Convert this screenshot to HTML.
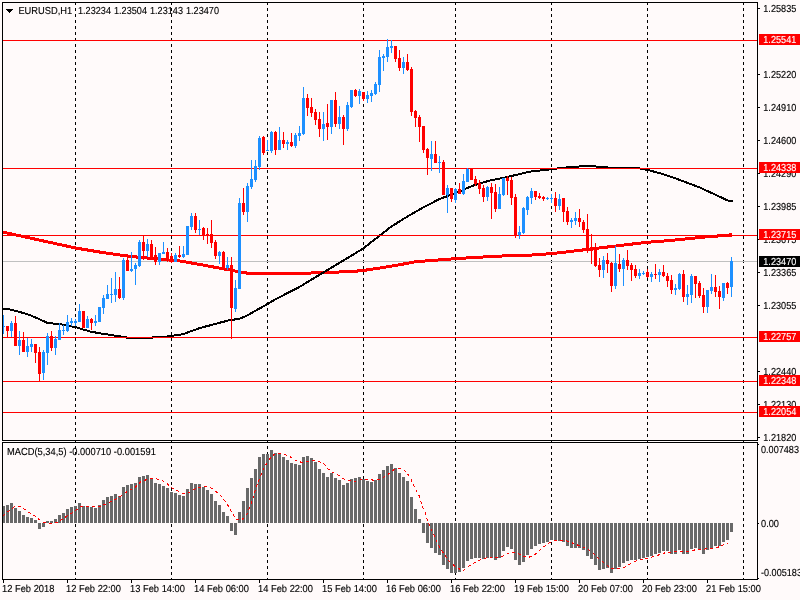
<!DOCTYPE html>
<html><head><meta charset="utf-8"><title>EURUSD,H1</title>
<style>
html,body{margin:0;padding:0;background:#FFFAFA;overflow:hidden}
svg{display:block}
text{font-family:"Liberation Sans",sans-serif;font-size:9.33px;fill:#000;stroke:#000;stroke-width:0.12px;text-rendering:geometricPrecision}
.w{fill:#fff;stroke:#fff}
</style></head><body>
<svg width="800" height="600" viewBox="0 0 800 600">
<rect width="800" height="600" fill="#FFFAFA"/>
<g shape-rendering="crispEdges">
<path d="M75.5 2V440M75.5 440V579" stroke="#000" stroke-width="1" stroke-dasharray="3 3" fill="none"/><path d="M171.5 2V440M171.5 440V579" stroke="#000" stroke-width="1" stroke-dasharray="3 3" fill="none"/><path d="M267.5 2V440M267.5 440V579" stroke="#000" stroke-width="1" stroke-dasharray="3 3" fill="none"/><path d="M363.5 2V440M363.5 440V579" stroke="#000" stroke-width="1" stroke-dasharray="3 3" fill="none"/><path d="M455.5 2V440M455.5 440V579" stroke="#000" stroke-width="1" stroke-dasharray="3 3" fill="none"/><path d="M551.5 2V440M551.5 440V579" stroke="#000" stroke-width="1" stroke-dasharray="3 3" fill="none"/><path d="M647.5 2V440M647.5 440V579" stroke="#000" stroke-width="1" stroke-dasharray="3 3" fill="none"/><path d="M743.5 2V440M743.5 440V579" stroke="#000" stroke-width="1" stroke-dasharray="3 3" fill="none"/>
<rect x="3" y="261" width="754" height="1" fill="#C0C0C0"/>
<path d="M3 231h4v3h-4zM7 232h5v3h-5zM12 233h4v3h-4zM16 234h5v3h-5zM21 235h4v3h-4zM25 235h1v4h-1zM26 236h4v3h-4zM30 237h4v3h-4zM34 237h1v4h-1zM35 238h4v3h-4zM39 239h4v3h-4zM43 239h1v4h-1zM44 240h4v3h-4zM48 241h5v3h-5zM53 242h4v3h-4zM57 243h5v3h-5zM62 244h4v3h-4zM66 244h1v4h-1zM67 245h4v3h-4zM71 246h4v3h-4zM75 246h1v4h-1zM76 247h5v3h-5zM81 247h1v4h-1zM82 248h5v3h-5zM87 248h1v4h-1zM88 249h5v3h-5zM93 249h1v4h-1zM94 250h5v3h-5zM99 250h1v4h-1zM100 251h6v3h-6zM106 252h7v3h-7zM113 253h7v3h-7zM120 254h7v3h-7zM127 254h1v4h-1zM128 255h8v3h-8zM136 255h1v4h-1zM137 256h10v3h-10zM147 257h11v3h-11zM158 258h11v3h-11zM169 259h11v3h-11zM180 260h6v3h-6zM186 261h5v3h-5zM191 261h1v4h-1zM192 262h5v3h-5zM197 263h6v3h-6zM203 264h5v3h-5zM208 265h5v3h-5zM213 265h1v4h-1zM214 266h5v3h-5zM219 267h5v3h-5zM224 267h1v4h-1zM225 268h5v3h-5zM230 269h5v3h-5zM235 270h6v3h-6zM241 271h5v3h-5zM246 271h1v4h-1zM247 272h64v3h-64zM311 271h28v3h-28zM339 270h18v3h-18zM357 269h1v4h-1zM358 269h8v3h-8zM366 268h1v4h-1zM367 268h6v3h-6zM373 267h7v3h-7zM380 266h6v3h-6zM386 265h6v3h-6zM392 264h6v3h-6zM398 263h5v3h-5zM403 262h1v4h-1zM404 262h5v3h-5zM409 261h5v3h-5zM414 260h11v3h-11zM425 259h13v3h-13zM438 258h13v3h-13zM451 257h15v3h-15zM466 256h17v3h-17zM483 255h19v3h-19zM502 254h30v3h-30zM532 253h14v3h-14zM546 252h11v3h-11zM557 251h9v3h-9zM566 250h8v3h-8zM574 249h8v3h-8zM582 248h1v4h-1zM583 248h8v3h-8zM591 247h8v3h-8zM599 246h8v3h-8zM607 245h1v4h-1zM608 245h8v3h-8zM616 244h8v3h-8zM624 243h8v3h-8zM632 242h1v4h-1zM633 242h8v3h-8zM641 241h10v3h-10zM651 240h13v3h-13zM664 239h11v3h-11zM675 238h10v3h-10zM685 237h10v3h-10zM695 236h10v3h-10zM705 235h12v3h-12zM717 234h1v4h-1zM718 234h14v3h-14z" fill="#FF0000"/><rect x="729" y="233" width="3" height="1" fill="#FF0000"/><path d="M3 308h7v2h-7zM10 309h4v2h-4zM14 310h4v2h-4zM18 311h3v2h-3zM21 311h1v3h-1zM22 312h3v2h-3zM25 313h3v2h-3zM28 314h3v2h-3zM31 315h2v2h-2zM33 316h2v2h-2zM35 316h1v3h-1zM36 317h2v2h-2zM38 318h2v2h-2zM40 319h2v2h-2zM42 320h2v2h-2zM44 320h1v3h-1zM45 321h1v2h-1zM46 321h1v3h-1zM47 322h6v2h-6zM53 323h9v2h-9zM62 324h5v2h-5zM67 325h5v2h-5zM72 326h5v2h-5zM77 327h3v2h-3zM80 328h3v2h-3zM83 329h4v2h-4zM87 330h3v2h-3zM90 331h5v2h-5zM95 331h1v3h-1zM96 332h5v2h-5zM101 333h7v2h-7zM108 334h6v2h-6zM114 335h7v2h-7zM121 336h5v2h-5zM126 336h1v3h-1zM127 337h25v2h-25zM152 336h1v3h-1zM153 336h14v2h-14zM167 335h7v2h-7zM174 334h7v2h-7zM181 333h4v2h-4zM185 332h2v2h-2zM187 331h1v3h-1zM188 331h2v2h-2zM190 330h3v2h-3zM193 329h3v2h-3zM196 328h2v2h-2zM198 327h1v3h-1zM199 327h3v2h-3zM202 326h3v2h-3zM205 325h1v3h-1zM206 325h3v2h-3zM209 324h1v3h-1zM210 324h3v2h-3zM213 323h4v2h-4zM217 322h3v2h-3zM220 321h1v3h-1zM221 321h3v2h-3zM224 320h1v3h-1zM225 320h3v2h-3zM228 319h6v2h-6zM234 318h1v3h-1zM235 318h5v2h-5zM240 317h2v2h-2zM242 316h1v3h-1zM243 316h2v2h-2zM245 315h2v2h-2zM247 314h2v2h-2zM249 313h1v2h-1zM250 312h1v3h-1zM251 312h1v2h-1zM252 311h1v3h-1zM253 311h1v2h-1zM254 310h2v2h-2zM256 309h1v2h-1zM257 308h1v3h-1zM258 308h1v2h-1zM259 307h1v3h-1zM260 307h1v2h-1zM261 306h1v3h-1zM262 306h1v2h-1zM263 305h2v2h-2zM265 304h1v2h-1zM266 303h1v3h-1zM267 303h1v2h-1zM268 302h1v3h-1zM269 302h1v2h-1zM270 301h1v2h-1zM271 300h1v3h-1zM272 300h1v2h-1zM273 299h1v3h-1zM274 299h1v2h-1zM275 298h2v2h-2zM277 297h2v2h-2zM279 296h2v2h-2zM281 295h2v2h-2zM283 294h1v2h-1zM284 293h1v3h-1zM285 293h1v2h-1zM286 292h1v3h-1zM287 292h1v2h-1zM288 291h1v3h-1zM289 291h1v2h-1zM290 290h1v3h-1zM291 290h1v2h-1zM292 289h1v3h-1zM293 289h1v2h-1zM294 288h1v3h-1zM295 288h1v2h-1zM296 287h1v3h-1zM297 287h1v2h-1zM298 286h1v3h-1zM299 286h1v2h-1zM300 285h2v2h-2zM302 284h1v2h-1zM303 283h1v3h-1zM304 283h1v2h-1zM305 282h1v2h-1zM306 281h1v3h-1zM307 281h1v2h-1zM308 280h1v3h-1zM309 280h1v2h-1zM310 279h1v2h-1zM311 278h1v3h-1zM312 278h1v2h-1zM313 277h1v3h-1zM314 277h1v2h-1zM315 276h1v2h-1zM316 275h1v3h-1zM317 275h1v2h-1zM318 274h1v3h-1zM319 274h1v2h-1zM320 273h1v2h-1zM321 272h1v3h-1zM322 272h1v2h-1zM323 271h1v3h-1zM324 271h1v2h-1zM325 270h1v2h-1zM326 269h1v3h-1zM327 269h1v2h-1zM328 268h1v3h-1zM329 268h1v2h-1zM330 267h1v2h-1zM331 266h1v3h-1zM332 266h1v2h-1zM333 265h1v3h-1zM334 265h1v2h-1zM335 264h1v2h-1zM336 263h1v3h-1zM337 263h1v2h-1zM338 262h1v3h-1zM339 262h1v2h-1zM340 261h1v2h-1zM341 260h1v3h-1zM342 260h1v2h-1zM343 259h1v3h-1zM344 259h1v2h-1zM345 258h1v2h-1zM346 257h1v3h-1zM347 257h1v2h-1zM348 256h1v3h-1zM349 256h1v2h-1zM350 255h1v2h-1zM351 254h1v3h-1zM352 254h1v2h-1zM353 253h1v3h-1zM354 253h1v2h-1zM355 252h1v2h-1zM356 251h1v3h-1zM357 251h1v2h-1zM358 250h2v2h-2zM360 249h1v2h-1zM361 248h1v3h-1zM362 248h1v2h-1zM363 247h1v2h-1zM364 246h1v3h-1zM365 245h1v3h-1zM366 245h1v2h-1zM367 244h1v2h-1zM368 243h1v3h-1zM369 242h1v3h-1zM370 241h1v3h-1zM371 241h1v2h-1zM372 240h1v2h-1zM373 239h1v3h-1zM374 238h1v3h-1zM375 238h1v2h-1zM376 237h1v2h-1zM377 236h1v3h-1zM378 235h1v3h-1zM379 234h1v3h-1zM380 234h1v2h-1zM381 233h1v2h-1zM382 232h1v3h-1zM383 231h1v3h-1zM384 231h1v2h-1zM385 230h1v2h-1zM386 229h1v3h-1zM387 228h1v3h-1zM388 227h1v3h-1zM389 227h1v2h-1zM390 226h1v2h-1zM391 225h1v3h-1zM392 225h1v2h-1zM393 224h1v2h-1zM394 223h1v3h-1zM395 223h1v2h-1zM396 222h1v3h-1zM397 221h1v3h-1zM398 221h1v2h-1zM399 220h1v3h-1zM400 220h1v2h-1zM401 219h1v2h-1zM402 218h1v3h-1zM403 218h1v2h-1zM404 217h2v2h-2zM406 216h1v2h-1zM407 215h1v3h-1zM408 215h1v2h-1zM409 214h2v2h-2zM411 213h1v2h-1zM412 212h1v3h-1zM413 212h1v2h-1zM414 211h1v3h-1zM415 211h1v2h-1zM416 210h2v2h-2zM418 209h1v2h-1zM419 208h1v3h-1zM420 208h1v2h-1zM421 207h1v3h-1zM422 207h1v2h-1zM423 206h2v2h-2zM425 205h2v2h-2zM427 204h2v2h-2zM429 203h2v2h-2zM431 202h2v2h-2zM433 201h1v2h-1zM434 200h1v3h-1zM435 200h1v2h-1zM436 199h1v3h-1zM437 199h1v2h-1zM438 198h1v3h-1zM439 198h2v2h-2zM441 197h2v2h-2zM443 196h1v3h-1zM444 196h2v2h-2zM446 195h1v3h-1zM447 195h2v2h-2zM449 194h3v2h-3zM452 193h2v2h-2zM454 192h1v3h-1zM455 192h2v2h-2zM457 191h2v2h-2zM459 190h1v3h-1zM460 190h2v2h-2zM462 189h2v2h-2zM464 188h2v2h-2zM466 187h2v2h-2zM468 186h1v3h-1zM469 186h2v2h-2zM471 185h2v2h-2zM473 184h1v3h-1zM474 184h3v2h-3zM477 183h3v2h-3zM480 182h3v2h-3zM483 181h3v2h-3zM486 180h1v3h-1zM487 180h3v2h-3zM490 179h5v2h-5zM495 178h5v2h-5zM500 177h5v2h-5zM505 176h4v2h-4zM509 175h4v2h-4zM513 174h1v3h-1zM514 174h4v2h-4zM518 173h4v2h-4zM522 172h4v2h-4zM526 171h5v2h-5zM531 170h9v2h-9zM540 169h8v2h-8zM548 168h1v3h-1zM549 168h8v2h-8zM557 167h9v2h-9zM566 166h13v2h-13zM579 165h17v2h-17zM596 166h12v2h-12zM608 167h32v2h-32zM640 168h5v2h-5zM645 169h5v2h-5zM650 170h3v2h-3zM653 170h1v3h-1zM654 171h3v2h-3zM657 172h4v2h-4zM661 173h3v2h-3zM664 174h3v2h-3zM667 175h3v2h-3zM670 176h3v2h-3zM673 177h3v2h-3zM676 178h2v2h-2zM678 178h1v3h-1zM679 179h2v2h-2zM681 180h3v2h-3zM684 181h2v2h-2zM686 181h1v3h-1zM687 182h2v2h-2zM689 183h3v2h-3zM692 184h2v2h-2zM694 184h1v3h-1zM695 185h2v2h-2zM697 186h3v2h-3zM700 187h2v2h-2zM702 188h2v2h-2zM704 189h2v2h-2zM706 190h2v2h-2zM708 190h1v3h-1zM709 191h1v2h-1zM710 191h1v3h-1zM711 192h2v2h-2zM713 193h2v2h-2zM715 194h2v2h-2zM717 195h2v2h-2zM719 196h2v2h-2zM721 196h1v3h-1zM722 197h1v2h-1zM723 197h1v3h-1zM724 198h1v2h-1zM725 198h1v3h-1zM726 199h2v2h-2zM728 200h5v2h-5z" fill="#000"/>
<rect x="3" y="40" width="754" height="1" fill="#FF0000"/><rect x="3" y="168" width="754" height="1" fill="#FF0000"/><rect x="3" y="235" width="754" height="1" fill="#FF0000"/><rect x="3" y="337" width="754" height="1" fill="#FF0000"/><rect x="3" y="381" width="754" height="1" fill="#FF0000"/><rect x="3" y="412" width="754" height="1" fill="#FF0000"/>
<rect x="3" y="315" width="1" height="19" fill="#1E90FF"/><rect x="2" y="326" width="3" height="1" fill="#1E90FF"/><rect x="7" y="326" width="1" height="11" fill="#FF0000"/><rect x="6" y="326" width="3" height="5" fill="#FF0000"/><rect x="11" y="321" width="1" height="16" fill="#1E90FF"/><rect x="10" y="323" width="3" height="8" fill="#1E90FF"/><rect x="15" y="316" width="1" height="30" fill="#FF0000"/><rect x="14" y="323" width="3" height="23" fill="#FF0000"/><rect x="19" y="331" width="1" height="24" fill="#1E90FF"/><rect x="18" y="340" width="3" height="6" fill="#1E90FF"/><rect x="23" y="332" width="1" height="20" fill="#FF0000"/><rect x="22" y="340" width="3" height="12" fill="#FF0000"/><rect x="27" y="338" width="1" height="19" fill="#1E90FF"/><rect x="26" y="346" width="3" height="6" fill="#1E90FF"/><rect x="31" y="339" width="1" height="13" fill="#1E90FF"/><rect x="30" y="344" width="3" height="3" fill="#1E90FF"/><rect x="35" y="344" width="1" height="19" fill="#FF0000"/><rect x="34" y="344" width="3" height="9" fill="#FF0000"/><rect x="39" y="347" width="1" height="35" fill="#FF0000"/><rect x="38" y="352" width="3" height="22" fill="#FF0000"/><rect x="43" y="350" width="1" height="30" fill="#1E90FF"/><rect x="42" y="352" width="3" height="21" fill="#1E90FF"/><rect x="47" y="333" width="1" height="32" fill="#1E90FF"/><rect x="46" y="336" width="3" height="17" fill="#1E90FF"/><rect x="51" y="331" width="1" height="20" fill="#FF0000"/><rect x="50" y="336" width="3" height="12" fill="#FF0000"/><rect x="55" y="336" width="1" height="19" fill="#1E90FF"/><rect x="54" y="339" width="3" height="9" fill="#1E90FF"/><rect x="59" y="323" width="1" height="17" fill="#1E90FF"/><rect x="58" y="330" width="3" height="10" fill="#1E90FF"/><rect x="63" y="325" width="1" height="10" fill="#1E90FF"/><rect x="62" y="330" width="3" height="1" fill="#1E90FF"/><rect x="67" y="315" width="1" height="17" fill="#1E90FF"/><rect x="66" y="322" width="3" height="9" fill="#1E90FF"/><rect x="71" y="318" width="1" height="8" fill="#1E90FF"/><rect x="70" y="321" width="3" height="2" fill="#1E90FF"/><rect x="75" y="319" width="1" height="7" fill="#1E90FF"/><rect x="74" y="321" width="3" height="2" fill="#1E90FF"/><rect x="79" y="304" width="1" height="18" fill="#1E90FF"/><rect x="78" y="311" width="3" height="11" fill="#1E90FF"/><rect x="83" y="311" width="1" height="17" fill="#FF0000"/><rect x="82" y="311" width="3" height="17" fill="#FF0000"/><rect x="87" y="316" width="1" height="12" fill="#1E90FF"/><rect x="86" y="319" width="3" height="9" fill="#1E90FF"/><rect x="91" y="318" width="1" height="12" fill="#FF0000"/><rect x="90" y="319" width="3" height="4" fill="#FF0000"/><rect x="95" y="315" width="1" height="11" fill="#1E90FF"/><rect x="94" y="321" width="3" height="2" fill="#1E90FF"/><rect x="99" y="307" width="1" height="15" fill="#1E90FF"/><rect x="98" y="307" width="3" height="15" fill="#1E90FF"/><rect x="103" y="295" width="1" height="19" fill="#1E90FF"/><rect x="102" y="298" width="3" height="10" fill="#1E90FF"/><rect x="107" y="285" width="1" height="14" fill="#1E90FF"/><rect x="106" y="294" width="3" height="5" fill="#1E90FF"/><rect x="111" y="278" width="1" height="25" fill="#1E90FF"/><rect x="110" y="294" width="3" height="1" fill="#1E90FF"/><rect x="115" y="272" width="1" height="30" fill="#1E90FF"/><rect x="114" y="289" width="3" height="6" fill="#1E90FF"/><rect x="119" y="277" width="1" height="22" fill="#FF0000"/><rect x="118" y="289" width="3" height="9" fill="#FF0000"/><rect x="123" y="258" width="1" height="42" fill="#1E90FF"/><rect x="122" y="260" width="3" height="38" fill="#1E90FF"/><rect x="127" y="257" width="1" height="14" fill="#FF0000"/><rect x="126" y="260" width="3" height="11" fill="#FF0000"/><rect x="131" y="252" width="1" height="20" fill="#1E90FF"/><rect x="130" y="269" width="3" height="2" fill="#1E90FF"/><rect x="135" y="263" width="1" height="22" fill="#1E90FF"/><rect x="134" y="265" width="3" height="4" fill="#1E90FF"/><rect x="139" y="240" width="1" height="27" fill="#1E90FF"/><rect x="138" y="242" width="3" height="24" fill="#1E90FF"/><rect x="143" y="236" width="1" height="24" fill="#FF0000"/><rect x="142" y="242" width="3" height="9" fill="#FF0000"/><rect x="147" y="239" width="1" height="18" fill="#1E90FF"/><rect x="146" y="244" width="3" height="7" fill="#1E90FF"/><rect x="151" y="240" width="1" height="19" fill="#FF0000"/><rect x="150" y="244" width="3" height="15" fill="#FF0000"/><rect x="155" y="247" width="1" height="18" fill="#FF0000"/><rect x="154" y="255" width="3" height="7" fill="#FF0000"/><rect x="159" y="253" width="1" height="12" fill="#1E90FF"/><rect x="158" y="253" width="3" height="9" fill="#1E90FF"/><rect x="163" y="242" width="1" height="12" fill="#1E90FF"/><rect x="162" y="252" width="3" height="2" fill="#1E90FF"/><rect x="167" y="248" width="1" height="14" fill="#FF0000"/><rect x="166" y="252" width="3" height="9" fill="#FF0000"/><rect x="171" y="253" width="1" height="10" fill="#FF0000"/><rect x="170" y="256" width="3" height="6" fill="#FF0000"/><rect x="175" y="253" width="1" height="9" fill="#1E90FF"/><rect x="174" y="255" width="3" height="7" fill="#1E90FF"/><rect x="179" y="246" width="1" height="12" fill="#FF0000"/><rect x="178" y="255" width="3" height="2" fill="#FF0000"/><rect x="183" y="246" width="1" height="12" fill="#1E90FF"/><rect x="182" y="254" width="3" height="3" fill="#1E90FF"/><rect x="187" y="226" width="1" height="29" fill="#1E90FF"/><rect x="186" y="226" width="3" height="29" fill="#1E90FF"/><rect x="191" y="213" width="1" height="17" fill="#1E90FF"/><rect x="190" y="216" width="3" height="11" fill="#1E90FF"/><rect x="195" y="213" width="1" height="20" fill="#FF0000"/><rect x="194" y="216" width="3" height="14" fill="#FF0000"/><rect x="199" y="220" width="1" height="15" fill="#1E90FF"/><rect x="198" y="229" width="3" height="1" fill="#1E90FF"/><rect x="203" y="227" width="1" height="13" fill="#FF0000"/><rect x="202" y="228" width="3" height="7" fill="#FF0000"/><rect x="207" y="228" width="1" height="16" fill="#FF0000"/><rect x="206" y="234" width="3" height="2" fill="#FF0000"/><rect x="211" y="220" width="1" height="28" fill="#FF0000"/><rect x="210" y="234" width="3" height="9" fill="#FF0000"/><rect x="215" y="240" width="1" height="19" fill="#FF0000"/><rect x="214" y="242" width="3" height="14" fill="#FF0000"/><rect x="219" y="251" width="1" height="13" fill="#1E90FF"/><rect x="218" y="252" width="3" height="4" fill="#1E90FF"/><rect x="223" y="251" width="1" height="18" fill="#FF0000"/><rect x="222" y="252" width="3" height="17" fill="#FF0000"/><rect x="227" y="257" width="1" height="13" fill="#1E90FF"/><rect x="226" y="265" width="3" height="3" fill="#1E90FF"/><rect x="231" y="257" width="1" height="82" fill="#FF0000"/><rect x="230" y="265" width="3" height="43" fill="#FF0000"/><rect x="235" y="280" width="1" height="32" fill="#1E90FF"/><rect x="234" y="288" width="3" height="21" fill="#1E90FF"/><rect x="239" y="198" width="1" height="91" fill="#1E90FF"/><rect x="238" y="203" width="3" height="86" fill="#1E90FF"/><rect x="243" y="188" width="1" height="27" fill="#FF0000"/><rect x="242" y="203" width="3" height="9" fill="#FF0000"/><rect x="247" y="183" width="1" height="39" fill="#1E90FF"/><rect x="246" y="186" width="3" height="26" fill="#1E90FF"/><rect x="251" y="160" width="1" height="29" fill="#1E90FF"/><rect x="250" y="179" width="3" height="8" fill="#1E90FF"/><rect x="255" y="160" width="1" height="22" fill="#1E90FF"/><rect x="254" y="166" width="3" height="14" fill="#1E90FF"/><rect x="259" y="136" width="1" height="34" fill="#1E90FF"/><rect x="258" y="138" width="3" height="29" fill="#1E90FF"/><rect x="263" y="136" width="1" height="19" fill="#FF0000"/><rect x="262" y="137" width="3" height="16" fill="#FF0000"/><rect x="267" y="140" width="1" height="11" fill="#1E90FF"/><rect x="266" y="150" width="3" height="1" fill="#1E90FF"/><rect x="271" y="131" width="1" height="22" fill="#1E90FF"/><rect x="270" y="132" width="3" height="19" fill="#1E90FF"/><rect x="275" y="131" width="1" height="24" fill="#FF0000"/><rect x="274" y="132" width="3" height="18" fill="#FF0000"/><rect x="279" y="127" width="1" height="23" fill="#1E90FF"/><rect x="278" y="140" width="3" height="10" fill="#1E90FF"/><rect x="283" y="132" width="1" height="16" fill="#FF0000"/><rect x="282" y="140" width="3" height="4" fill="#FF0000"/><rect x="287" y="140" width="1" height="10" fill="#1E90FF"/><rect x="286" y="142" width="3" height="2" fill="#1E90FF"/><rect x="291" y="133" width="1" height="14" fill="#FF0000"/><rect x="290" y="142" width="3" height="4" fill="#FF0000"/><rect x="295" y="133" width="1" height="15" fill="#1E90FF"/><rect x="294" y="135" width="3" height="11" fill="#1E90FF"/><rect x="299" y="126" width="1" height="15" fill="#1E90FF"/><rect x="298" y="133" width="3" height="3" fill="#1E90FF"/><rect x="303" y="87" width="1" height="48" fill="#1E90FF"/><rect x="302" y="98" width="3" height="36" fill="#1E90FF"/><rect x="307" y="94" width="1" height="22" fill="#FF0000"/><rect x="306" y="98" width="3" height="10" fill="#FF0000"/><rect x="311" y="98" width="1" height="19" fill="#FF0000"/><rect x="310" y="107" width="3" height="6" fill="#FF0000"/><rect x="315" y="109" width="1" height="16" fill="#FF0000"/><rect x="314" y="112" width="3" height="8" fill="#FF0000"/><rect x="319" y="112" width="1" height="25" fill="#FF0000"/><rect x="318" y="119" width="3" height="10" fill="#FF0000"/><rect x="323" y="112" width="1" height="29" fill="#1E90FF"/><rect x="322" y="124" width="3" height="5" fill="#1E90FF"/><rect x="327" y="104" width="1" height="36" fill="#FF0000"/><rect x="326" y="123" width="3" height="4" fill="#FF0000"/><rect x="331" y="100" width="1" height="34" fill="#1E90FF"/><rect x="330" y="100" width="3" height="27" fill="#1E90FF"/><rect x="335" y="92" width="1" height="35" fill="#FF0000"/><rect x="334" y="100" width="3" height="24" fill="#FF0000"/><rect x="339" y="106" width="1" height="23" fill="#1E90FF"/><rect x="338" y="117" width="3" height="7" fill="#1E90FF"/><rect x="343" y="115" width="1" height="30" fill="#FF0000"/><rect x="342" y="117" width="3" height="12" fill="#FF0000"/><rect x="347" y="102" width="1" height="29" fill="#1E90FF"/><rect x="346" y="105" width="3" height="24" fill="#1E90FF"/><rect x="351" y="90" width="1" height="18" fill="#1E90FF"/><rect x="350" y="90" width="3" height="17" fill="#1E90FF"/><rect x="355" y="89" width="1" height="8" fill="#FF0000"/><rect x="354" y="90" width="3" height="6" fill="#FF0000"/><rect x="359" y="89" width="1" height="15" fill="#1E90FF"/><rect x="358" y="91" width="3" height="5" fill="#1E90FF"/><rect x="363" y="92" width="1" height="9" fill="#FF0000"/><rect x="362" y="92" width="3" height="7" fill="#FF0000"/><rect x="367" y="91" width="1" height="12" fill="#1E90FF"/><rect x="366" y="95" width="3" height="4" fill="#1E90FF"/><rect x="371" y="90" width="1" height="12" fill="#1E90FF"/><rect x="370" y="93" width="3" height="3" fill="#1E90FF"/><rect x="375" y="82" width="1" height="13" fill="#1E90FF"/><rect x="374" y="84" width="3" height="10" fill="#1E90FF"/><rect x="379" y="50" width="1" height="42" fill="#1E90FF"/><rect x="378" y="57" width="3" height="28" fill="#1E90FF"/><rect x="383" y="54" width="1" height="17" fill="#1E90FF"/><rect x="382" y="56" width="3" height="2" fill="#1E90FF"/><rect x="387" y="39" width="1" height="23" fill="#1E90FF"/><rect x="386" y="47" width="3" height="10" fill="#1E90FF"/><rect x="391" y="40" width="1" height="13" fill="#1E90FF"/><rect x="390" y="46" width="3" height="2" fill="#1E90FF"/><rect x="395" y="46" width="1" height="16" fill="#FF0000"/><rect x="394" y="46" width="3" height="13" fill="#FF0000"/><rect x="399" y="50" width="1" height="21" fill="#FF0000"/><rect x="398" y="58" width="3" height="10" fill="#FF0000"/><rect x="403" y="57" width="1" height="17" fill="#1E90FF"/><rect x="402" y="62" width="3" height="6" fill="#1E90FF"/><rect x="407" y="54" width="1" height="17" fill="#FF0000"/><rect x="406" y="62" width="3" height="8" fill="#FF0000"/><rect x="411" y="67" width="1" height="49" fill="#FF0000"/><rect x="410" y="69" width="3" height="43" fill="#FF0000"/><rect x="415" y="110" width="1" height="17" fill="#FF0000"/><rect x="414" y="111" width="3" height="7" fill="#FF0000"/><rect x="419" y="115" width="1" height="27" fill="#FF0000"/><rect x="418" y="117" width="3" height="10" fill="#FF0000"/><rect x="423" y="126" width="1" height="27" fill="#FF0000"/><rect x="422" y="126" width="3" height="24" fill="#FF0000"/><rect x="427" y="148" width="1" height="27" fill="#FF0000"/><rect x="426" y="149" width="3" height="9" fill="#FF0000"/><rect x="431" y="141" width="1" height="30" fill="#1E90FF"/><rect x="430" y="154" width="3" height="5" fill="#1E90FF"/><rect x="435" y="141" width="1" height="22" fill="#FF0000"/><rect x="434" y="154" width="3" height="9" fill="#FF0000"/><rect x="439" y="156" width="1" height="17" fill="#1E90FF"/><rect x="438" y="162" width="3" height="1" fill="#1E90FF"/><rect x="443" y="160" width="1" height="35" fill="#FF0000"/><rect x="442" y="162" width="3" height="33" fill="#FF0000"/><rect x="447" y="185" width="1" height="28" fill="#1E90FF"/><rect x="446" y="188" width="3" height="7" fill="#1E90FF"/><rect x="451" y="188" width="1" height="14" fill="#FF0000"/><rect x="450" y="188" width="3" height="11" fill="#FF0000"/><rect x="455" y="188" width="1" height="15" fill="#1E90FF"/><rect x="454" y="189" width="3" height="11" fill="#1E90FF"/><rect x="459" y="183" width="1" height="11" fill="#FF0000"/><rect x="458" y="189" width="3" height="5" fill="#FF0000"/><rect x="463" y="174" width="1" height="21" fill="#1E90FF"/><rect x="462" y="181" width="3" height="13" fill="#1E90FF"/><rect x="467" y="168" width="1" height="14" fill="#1E90FF"/><rect x="466" y="169" width="3" height="13" fill="#1E90FF"/><rect x="471" y="168" width="1" height="12" fill="#FF0000"/><rect x="470" y="168" width="3" height="12" fill="#FF0000"/><rect x="475" y="176" width="1" height="10" fill="#FF0000"/><rect x="474" y="179" width="3" height="5" fill="#FF0000"/><rect x="479" y="180" width="1" height="14" fill="#FF0000"/><rect x="478" y="183" width="3" height="6" fill="#FF0000"/><rect x="483" y="185" width="1" height="17" fill="#FF0000"/><rect x="482" y="188" width="3" height="9" fill="#FF0000"/><rect x="487" y="186" width="1" height="15" fill="#1E90FF"/><rect x="486" y="187" width="3" height="10" fill="#1E90FF"/><rect x="491" y="183" width="1" height="36" fill="#FF0000"/><rect x="490" y="187" width="3" height="6" fill="#FF0000"/><rect x="495" y="184" width="1" height="28" fill="#FF0000"/><rect x="494" y="192" width="3" height="17" fill="#FF0000"/><rect x="499" y="187" width="1" height="22" fill="#1E90FF"/><rect x="498" y="194" width="3" height="15" fill="#1E90FF"/><rect x="503" y="178" width="1" height="18" fill="#1E90FF"/><rect x="502" y="178" width="3" height="17" fill="#1E90FF"/><rect x="507" y="176" width="1" height="19" fill="#FF0000"/><rect x="506" y="178" width="3" height="3" fill="#FF0000"/><rect x="511" y="177" width="1" height="28" fill="#FF0000"/><rect x="510" y="180" width="3" height="18" fill="#FF0000"/><rect x="515" y="194" width="1" height="44" fill="#FF0000"/><rect x="514" y="197" width="3" height="38" fill="#FF0000"/><rect x="519" y="226" width="1" height="13" fill="#1E90FF"/><rect x="518" y="232" width="3" height="3" fill="#1E90FF"/><rect x="523" y="207" width="1" height="27" fill="#1E90FF"/><rect x="522" y="208" width="3" height="25" fill="#1E90FF"/><rect x="527" y="196" width="1" height="19" fill="#1E90FF"/><rect x="526" y="197" width="3" height="13" fill="#1E90FF"/><rect x="531" y="188" width="1" height="16" fill="#1E90FF"/><rect x="530" y="191" width="3" height="7" fill="#1E90FF"/><rect x="535" y="191" width="1" height="9" fill="#FF0000"/><rect x="534" y="191" width="3" height="6" fill="#FF0000"/><rect x="539" y="193" width="1" height="6" fill="#FF0000"/><rect x="538" y="196" width="3" height="2" fill="#FF0000"/><rect x="543" y="196" width="1" height="5" fill="#FF0000"/><rect x="542" y="197" width="3" height="2" fill="#FF0000"/><rect x="547" y="197" width="1" height="3" fill="#1E90FF"/><rect x="546" y="198" width="3" height="1" fill="#1E90FF"/><rect x="551" y="194" width="1" height="9" fill="#1E90FF"/><rect x="550" y="198" width="3" height="1" fill="#1E90FF"/><rect x="555" y="192" width="1" height="20" fill="#FF0000"/><rect x="554" y="198" width="3" height="8" fill="#FF0000"/><rect x="559" y="194" width="1" height="16" fill="#1E90FF"/><rect x="558" y="199" width="3" height="7" fill="#1E90FF"/><rect x="563" y="198" width="1" height="24" fill="#FF0000"/><rect x="562" y="198" width="3" height="14" fill="#FF0000"/><rect x="567" y="207" width="1" height="18" fill="#FF0000"/><rect x="566" y="211" width="3" height="11" fill="#FF0000"/><rect x="571" y="218" width="1" height="10" fill="#1E90FF"/><rect x="570" y="220" width="3" height="2" fill="#1E90FF"/><rect x="575" y="212" width="1" height="13" fill="#1E90FF"/><rect x="574" y="218" width="3" height="3" fill="#1E90FF"/><rect x="579" y="209" width="1" height="18" fill="#FF0000"/><rect x="578" y="218" width="3" height="4" fill="#FF0000"/><rect x="583" y="220" width="1" height="13" fill="#FF0000"/><rect x="582" y="222" width="3" height="8" fill="#FF0000"/><rect x="587" y="214" width="1" height="39" fill="#FF0000"/><rect x="586" y="229" width="3" height="21" fill="#FF0000"/><rect x="591" y="234" width="1" height="30" fill="#FF0000"/><rect x="590" y="247" width="3" height="4" fill="#FF0000"/><rect x="595" y="243" width="1" height="24" fill="#FF0000"/><rect x="594" y="249" width="3" height="17" fill="#FF0000"/><rect x="599" y="258" width="1" height="19" fill="#FF0000"/><rect x="598" y="265" width="3" height="5" fill="#FF0000"/><rect x="603" y="256" width="1" height="22" fill="#1E90FF"/><rect x="602" y="260" width="3" height="10" fill="#1E90FF"/><rect x="607" y="253" width="1" height="20" fill="#FF0000"/><rect x="606" y="260" width="3" height="4" fill="#FF0000"/><rect x="611" y="262" width="1" height="30" fill="#FF0000"/><rect x="610" y="263" width="3" height="23" fill="#FF0000"/><rect x="615" y="246" width="1" height="43" fill="#1E90FF"/><rect x="614" y="263" width="3" height="23" fill="#1E90FF"/><rect x="619" y="254" width="1" height="18" fill="#FF0000"/><rect x="618" y="264" width="3" height="5" fill="#FF0000"/><rect x="623" y="258" width="1" height="28" fill="#1E90FF"/><rect x="622" y="260" width="3" height="9" fill="#1E90FF"/><rect x="627" y="250" width="1" height="20" fill="#FF0000"/><rect x="626" y="260" width="3" height="6" fill="#FF0000"/><rect x="631" y="263" width="1" height="18" fill="#FF0000"/><rect x="630" y="265" width="3" height="5" fill="#FF0000"/><rect x="635" y="265" width="1" height="13" fill="#FF0000"/><rect x="634" y="269" width="3" height="7" fill="#FF0000"/><rect x="639" y="269" width="1" height="10" fill="#1E90FF"/><rect x="638" y="273" width="3" height="3" fill="#1E90FF"/><rect x="643" y="271" width="1" height="4" fill="#1E90FF"/><rect x="642" y="273" width="3" height="1" fill="#1E90FF"/><rect x="647" y="269" width="1" height="9" fill="#FF0000"/><rect x="646" y="272" width="3" height="5" fill="#FF0000"/><rect x="651" y="272" width="1" height="10" fill="#1E90FF"/><rect x="650" y="274" width="3" height="3" fill="#1E90FF"/><rect x="655" y="264" width="1" height="15" fill="#FF0000"/><rect x="654" y="274" width="3" height="1" fill="#FF0000"/><rect x="659" y="269" width="1" height="13" fill="#1E90FF"/><rect x="658" y="272" width="3" height="3" fill="#1E90FF"/><rect x="663" y="265" width="1" height="12" fill="#FF0000"/><rect x="662" y="272" width="3" height="4" fill="#FF0000"/><rect x="667" y="273" width="1" height="14" fill="#FF0000"/><rect x="666" y="276" width="3" height="5" fill="#FF0000"/><rect x="671" y="275" width="1" height="19" fill="#FF0000"/><rect x="670" y="280" width="3" height="10" fill="#FF0000"/><rect x="675" y="284" width="1" height="11" fill="#1E90FF"/><rect x="674" y="288" width="3" height="2" fill="#1E90FF"/><rect x="679" y="273" width="1" height="17" fill="#1E90FF"/><rect x="678" y="274" width="3" height="15" fill="#1E90FF"/><rect x="683" y="270" width="1" height="32" fill="#FF0000"/><rect x="682" y="274" width="3" height="23" fill="#FF0000"/><rect x="687" y="285" width="1" height="20" fill="#1E90FF"/><rect x="686" y="294" width="3" height="3" fill="#1E90FF"/><rect x="691" y="274" width="1" height="29" fill="#1E90FF"/><rect x="690" y="276" width="3" height="19" fill="#1E90FF"/><rect x="695" y="276" width="1" height="22" fill="#FF0000"/><rect x="694" y="276" width="3" height="8" fill="#FF0000"/><rect x="699" y="281" width="1" height="17" fill="#FF0000"/><rect x="698" y="283" width="3" height="13" fill="#FF0000"/><rect x="703" y="288" width="1" height="25" fill="#FF0000"/><rect x="702" y="295" width="3" height="12" fill="#FF0000"/><rect x="707" y="290" width="1" height="23" fill="#1E90FF"/><rect x="706" y="290" width="3" height="17" fill="#1E90FF"/><rect x="711" y="274" width="1" height="20" fill="#1E90FF"/><rect x="710" y="287" width="3" height="4" fill="#1E90FF"/><rect x="715" y="275" width="1" height="22" fill="#FF0000"/><rect x="714" y="287" width="3" height="5" fill="#FF0000"/><rect x="719" y="286" width="1" height="23" fill="#FF0000"/><rect x="718" y="291" width="3" height="6" fill="#FF0000"/><rect x="723" y="283" width="1" height="18" fill="#1E90FF"/><rect x="722" y="283" width="3" height="15" fill="#1E90FF"/><rect x="727" y="282" width="1" height="12" fill="#FF0000"/><rect x="726" y="283" width="3" height="5" fill="#FF0000"/><rect x="731" y="257" width="1" height="40" fill="#1E90FF"/><rect x="730" y="261" width="3" height="26" fill="#1E90FF"/>
<rect x="2" y="506" width="3" height="17" fill="#696969"/><rect x="6" y="505" width="3" height="18" fill="#696969"/><rect x="10" y="503" width="3" height="20" fill="#696969"/><rect x="14" y="508" width="3" height="15" fill="#696969"/><rect x="18" y="511" width="3" height="12" fill="#696969"/><rect x="22" y="515" width="3" height="8" fill="#696969"/><rect x="26" y="517" width="3" height="6" fill="#696969"/><rect x="30" y="518" width="3" height="5" fill="#696969"/><rect x="34" y="520" width="3" height="3" fill="#696969"/><rect x="38" y="523" width="3" height="6" fill="#696969"/><rect x="42" y="523" width="3" height="4" fill="#696969"/><rect x="46" y="521" width="3" height="2" fill="#696969"/><rect x="50" y="521" width="3" height="2" fill="#696969"/><rect x="54" y="519" width="3" height="4" fill="#696969"/><rect x="58" y="515" width="3" height="8" fill="#696969"/><rect x="62" y="513" width="3" height="10" fill="#696969"/><rect x="66" y="509" width="3" height="14" fill="#696969"/><rect x="70" y="507" width="3" height="16" fill="#696969"/><rect x="74" y="506" width="3" height="17" fill="#696969"/><rect x="78" y="503" width="3" height="20" fill="#696969"/><rect x="82" y="506" width="3" height="17" fill="#696969"/><rect x="86" y="506" width="3" height="17" fill="#696969"/><rect x="90" y="507" width="3" height="16" fill="#696969"/><rect x="94" y="508" width="3" height="15" fill="#696969"/><rect x="98" y="505" width="3" height="18" fill="#696969"/><rect x="102" y="500" width="3" height="23" fill="#696969"/><rect x="106" y="497" width="3" height="26" fill="#696969"/><rect x="110" y="496" width="3" height="27" fill="#696969"/><rect x="114" y="494" width="3" height="29" fill="#696969"/><rect x="118" y="496" width="3" height="27" fill="#696969"/><rect x="122" y="487" width="3" height="36" fill="#696969"/><rect x="126" y="485" width="3" height="38" fill="#696969"/><rect x="130" y="484" width="3" height="39" fill="#696969"/><rect x="134" y="483" width="3" height="40" fill="#696969"/><rect x="138" y="477" width="3" height="46" fill="#696969"/><rect x="142" y="476" width="3" height="47" fill="#696969"/><rect x="146" y="475" width="3" height="48" fill="#696969"/><rect x="150" y="478" width="3" height="45" fill="#696969"/><rect x="154" y="483" width="3" height="40" fill="#696969"/><rect x="158" y="484" width="3" height="39" fill="#696969"/><rect x="162" y="486" width="3" height="37" fill="#696969"/><rect x="166" y="488" width="3" height="35" fill="#696969"/><rect x="170" y="492" width="3" height="31" fill="#696969"/><rect x="174" y="493" width="3" height="30" fill="#696969"/><rect x="178" y="495" width="3" height="28" fill="#696969"/><rect x="182" y="496" width="3" height="27" fill="#696969"/><rect x="186" y="489" width="3" height="34" fill="#696969"/><rect x="190" y="483" width="3" height="40" fill="#696969"/><rect x="194" y="484" width="3" height="39" fill="#696969"/><rect x="198" y="484" width="3" height="39" fill="#696969"/><rect x="202" y="487" width="3" height="36" fill="#696969"/><rect x="206" y="490" width="3" height="33" fill="#696969"/><rect x="210" y="494" width="3" height="29" fill="#696969"/><rect x="214" y="501" width="3" height="22" fill="#696969"/><rect x="218" y="505" width="3" height="18" fill="#696969"/><rect x="222" y="512" width="3" height="11" fill="#696969"/><rect x="226" y="516" width="3" height="7" fill="#696969"/><rect x="230" y="523" width="3" height="8" fill="#696969"/><rect x="234" y="523" width="3" height="12" fill="#696969"/><rect x="238" y="512" width="3" height="11" fill="#696969"/><rect x="242" y="501" width="3" height="22" fill="#696969"/><rect x="246" y="488" width="3" height="35" fill="#696969"/><rect x="250" y="478" width="3" height="45" fill="#696969"/><rect x="254" y="469" width="3" height="54" fill="#696969"/><rect x="258" y="457" width="3" height="66" fill="#696969"/><rect x="262" y="454" width="3" height="69" fill="#696969"/><rect x="266" y="454" width="3" height="69" fill="#696969"/><rect x="270" y="450" width="3" height="73" fill="#696969"/><rect x="274" y="453" width="3" height="70" fill="#696969"/><rect x="278" y="453" width="3" height="70" fill="#696969"/><rect x="282" y="457" width="3" height="66" fill="#696969"/><rect x="286" y="460" width="3" height="63" fill="#696969"/><rect x="290" y="463" width="3" height="60" fill="#696969"/><rect x="294" y="464" width="3" height="59" fill="#696969"/><rect x="298" y="465" width="3" height="58" fill="#696969"/><rect x="302" y="457" width="3" height="66" fill="#696969"/><rect x="306" y="456" width="3" height="67" fill="#696969"/><rect x="310" y="458" width="3" height="65" fill="#696969"/><rect x="314" y="462" width="3" height="61" fill="#696969"/><rect x="318" y="469" width="3" height="54" fill="#696969"/><rect x="322" y="473" width="3" height="50" fill="#696969"/><rect x="326" y="477" width="3" height="46" fill="#696969"/><rect x="330" y="473" width="3" height="50" fill="#696969"/><rect x="334" y="478" width="3" height="45" fill="#696969"/><rect x="338" y="480" width="3" height="43" fill="#696969"/><rect x="342" y="485" width="3" height="38" fill="#696969"/><rect x="346" y="483" width="3" height="40" fill="#696969"/><rect x="350" y="479" width="3" height="44" fill="#696969"/><rect x="354" y="478" width="3" height="45" fill="#696969"/><rect x="358" y="477" width="3" height="46" fill="#696969"/><rect x="362" y="479" width="3" height="44" fill="#696969"/><rect x="366" y="481" width="3" height="42" fill="#696969"/><rect x="370" y="482" width="3" height="41" fill="#696969"/><rect x="374" y="480" width="3" height="43" fill="#696969"/><rect x="378" y="474" width="3" height="49" fill="#696969"/><rect x="382" y="470" width="3" height="53" fill="#696969"/><rect x="386" y="466" width="3" height="57" fill="#696969"/><rect x="390" y="464" width="3" height="59" fill="#696969"/><rect x="394" y="468" width="3" height="55" fill="#696969"/><rect x="398" y="473" width="3" height="50" fill="#696969"/><rect x="402" y="477" width="3" height="46" fill="#696969"/><rect x="406" y="481" width="3" height="42" fill="#696969"/><rect x="410" y="497" width="3" height="26" fill="#696969"/><rect x="414" y="509" width="3" height="14" fill="#696969"/><rect x="418" y="519" width="3" height="4" fill="#696969"/><rect x="422" y="523" width="3" height="10" fill="#696969"/><rect x="426" y="523" width="3" height="20" fill="#696969"/><rect x="430" y="523" width="3" height="25" fill="#696969"/><rect x="434" y="523" width="3" height="30" fill="#696969"/><rect x="438" y="523" width="3" height="32" fill="#696969"/><rect x="442" y="523" width="3" height="42" fill="#696969"/><rect x="446" y="523" width="3" height="46" fill="#696969"/><rect x="450" y="523" width="3" height="50" fill="#696969"/><rect x="454" y="523" width="3" height="50" fill="#696969"/><rect x="458" y="523" width="3" height="49" fill="#696969"/><rect x="462" y="523" width="3" height="45" fill="#696969"/><rect x="466" y="523" width="3" height="38" fill="#696969"/><rect x="470" y="523" width="3" height="36" fill="#696969"/><rect x="474" y="523" width="3" height="35" fill="#696969"/><rect x="478" y="523" width="3" height="35" fill="#696969"/><rect x="482" y="523" width="3" height="36" fill="#696969"/><rect x="486" y="523" width="3" height="35" fill="#696969"/><rect x="490" y="523" width="3" height="35" fill="#696969"/><rect x="494" y="523" width="3" height="37" fill="#696969"/><rect x="498" y="523" width="3" height="35" fill="#696969"/><rect x="502" y="523" width="3" height="28" fill="#696969"/><rect x="506" y="523" width="3" height="24" fill="#696969"/><rect x="510" y="523" width="3" height="26" fill="#696969"/><rect x="514" y="523" width="3" height="37" fill="#696969"/><rect x="518" y="523" width="3" height="42" fill="#696969"/><rect x="522" y="523" width="3" height="39" fill="#696969"/><rect x="526" y="523" width="3" height="32" fill="#696969"/><rect x="530" y="523" width="3" height="26" fill="#696969"/><rect x="534" y="523" width="3" height="23" fill="#696969"/><rect x="538" y="523" width="3" height="21" fill="#696969"/><rect x="542" y="523" width="3" height="20" fill="#696969"/><rect x="546" y="523" width="3" height="19" fill="#696969"/><rect x="550" y="523" width="3" height="17" fill="#696969"/><rect x="554" y="523" width="3" height="18" fill="#696969"/><rect x="558" y="523" width="3" height="18" fill="#696969"/><rect x="562" y="523" width="3" height="19" fill="#696969"/><rect x="566" y="523" width="3" height="23" fill="#696969"/><rect x="570" y="523" width="3" height="25" fill="#696969"/><rect x="574" y="523" width="3" height="25" fill="#696969"/><rect x="578" y="523" width="3" height="25" fill="#696969"/><rect x="582" y="523" width="3" height="27" fill="#696969"/><rect x="586" y="523" width="3" height="33" fill="#696969"/><rect x="590" y="523" width="3" height="36" fill="#696969"/><rect x="594" y="523" width="3" height="42" fill="#696969"/><rect x="598" y="523" width="3" height="47" fill="#696969"/><rect x="602" y="523" width="3" height="46" fill="#696969"/><rect x="606" y="523" width="3" height="45" fill="#696969"/><rect x="610" y="523" width="3" height="50" fill="#696969"/><rect x="614" y="523" width="3" height="46" fill="#696969"/><rect x="618" y="523" width="3" height="44" fill="#696969"/><rect x="622" y="523" width="3" height="40" fill="#696969"/><rect x="626" y="523" width="3" height="38" fill="#696969"/><rect x="630" y="523" width="3" height="37" fill="#696969"/><rect x="634" y="523" width="3" height="37" fill="#696969"/><rect x="638" y="523" width="3" height="36" fill="#696969"/><rect x="642" y="523" width="3" height="35" fill="#696969"/><rect x="646" y="523" width="3" height="34" fill="#696969"/><rect x="650" y="523" width="3" height="33" fill="#696969"/><rect x="654" y="523" width="3" height="31" fill="#696969"/><rect x="658" y="523" width="3" height="30" fill="#696969"/><rect x="662" y="523" width="3" height="28" fill="#696969"/><rect x="666" y="523" width="3" height="28" fill="#696969"/><rect x="670" y="523" width="3" height="31" fill="#696969"/><rect x="674" y="523" width="3" height="31" fill="#696969"/><rect x="678" y="523" width="3" height="27" fill="#696969"/><rect x="682" y="523" width="3" height="31" fill="#696969"/><rect x="686" y="523" width="3" height="31" fill="#696969"/><rect x="690" y="523" width="3" height="26" fill="#696969"/><rect x="694" y="523" width="3" height="25" fill="#696969"/><rect x="698" y="523" width="3" height="26" fill="#696969"/><rect x="702" y="523" width="3" height="31" fill="#696969"/><rect x="706" y="523" width="3" height="27" fill="#696969"/><rect x="710" y="523" width="3" height="25" fill="#696969"/><rect x="714" y="523" width="3" height="23" fill="#696969"/><rect x="718" y="523" width="3" height="23" fill="#696969"/><rect x="722" y="523" width="3" height="19" fill="#696969"/><rect x="726" y="523" width="3" height="17" fill="#696969"/><rect x="730" y="523" width="3" height="9" fill="#696969"/>
<polyline points="3,516 7,512.5 11,509 15,506.6 20,506.5 24,509 28,512 34,515.5 40,520 44,522.5 50,523.5 57,522.5 63,518.6 70,514 75,511 80,507 90,506.5 100,506.5 106,504 112,501 118,498 123,495 127,491.5 135,487.5 141,481.5 147,479.5 153,478.5 160,479.5 166,482.5 171,487.5 177,490.5 183,493.5 190,492 195,489 201,487 207,486.5 213,489 220,495 225,501 229,507 232,513 236,519.5 241,520 246,516.5 250,507 253,498 256,488 260,477 264,468 268,461 272,456 276,453.5 280,453.5 285,454.5 290,456.5 294,459.5 298,461.5 303,462.5 308,461.5 312,460.5 316,460.5 321,462.5 324,464 328,469 333,472.5 338,475 342,478 346,480 351,481 356,481 360,480 364,479.5 370,479.5 375,480.5 381,479 386,476 390,473 394,469.5 398,468.5 402,468.5 406,472 410,477 413,484 416,490 419,495.5 422,505.5 425,512 427,519 430,526 433,533 436,540 439,546 442,551 446,557 450,562 455,566.5 458,568 461,570 464,570 468,567 472,564 476,562 481,559.5 486,558 490,557 495,558 500,557.5 505,555 510,552.5 516,552.5 520,554.5 524,556.5 528,557.5 534,555.5 540,550 546,545 551,542 554,541 560,540.5 565,540.5 570,542 576,544.5 582,546.5 588,549.5 594,554 600,560 606,564.5 612,568.5 618,568.5 624,567.5 630,564 636,561 642,559.5 648,558 654,556.5 660,554.5 666,552.5 672,552 680,551.5 690,551.5 696,549.5 702,549.5 708,548.5 714,548.5 720,546.5 726,543.5 728,543" fill="none" stroke="#FF0000" stroke-width="1" stroke-linejoin="round" stroke-dasharray="3 3"/>
<rect x="2" y="2" width="756" height="1" fill="#000"/><rect x="2" y="440" width="756" height="1" fill="#000"/><rect x="2" y="2" width="1" height="439" fill="#000"/><rect x="757" y="2" width="1" height="439" fill="#000"/><rect x="2" y="442" width="756" height="1" fill="#000"/><rect x="2" y="579" width="756" height="1" fill="#000"/><rect x="2" y="442" width="1" height="138" fill="#000"/><rect x="757" y="442" width="1" height="138" fill="#000"/><rect x="758" y="8" width="2" height="1" fill="#000"/><rect x="758" y="74" width="2" height="1" fill="#000"/><rect x="758" y="107" width="2" height="1" fill="#000"/><rect x="758" y="140" width="2" height="1" fill="#000"/><rect x="758" y="173" width="2" height="1" fill="#000"/><rect x="758" y="206" width="2" height="1" fill="#000"/><rect x="758" y="239" width="2" height="1" fill="#000"/><rect x="758" y="272" width="2" height="1" fill="#000"/><rect x="758" y="305" width="2" height="1" fill="#000"/><rect x="758" y="371" width="2" height="1" fill="#000"/><rect x="758" y="404" width="2" height="1" fill="#000"/><rect x="758" y="437" width="2" height="1" fill="#000"/><rect x="758" y="444" width="1" height="1" fill="#000"/><rect x="758" y="523" width="1" height="1" fill="#000"/><rect x="758" y="578" width="1" height="1" fill="#000"/><rect x="3" y="580" width="1" height="3" fill="#000"/><rect x="67" y="580" width="1" height="3" fill="#000"/><rect x="131" y="580" width="1" height="3" fill="#000"/><rect x="195" y="580" width="1" height="3" fill="#000"/><rect x="259" y="580" width="1" height="3" fill="#000"/><rect x="323" y="580" width="1" height="3" fill="#000"/><rect x="387" y="580" width="1" height="3" fill="#000"/><rect x="451" y="580" width="1" height="3" fill="#000"/><rect x="515" y="580" width="1" height="3" fill="#000"/><rect x="579" y="580" width="1" height="3" fill="#000"/><rect x="643" y="580" width="1" height="3" fill="#000"/><rect x="707" y="580" width="1" height="3" fill="#000"/><path d="M6 9h7v1h-1v1h-1v1h-1v1h-1v-1h-1v-1h-1v-1h-1z" fill="#000"/></g>
<text transform="translate(0 14) scale(1 1.09)"><tspan x="18.4">EURUSD,H1</tspan> <tspan x="78" textLength="33" lengthAdjust="spacingAndGlyphs">1.23234</tspan> <tspan x="114" textLength="33" lengthAdjust="spacingAndGlyphs">1.23504</tspan> <tspan x="150" textLength="33" lengthAdjust="spacingAndGlyphs">1.23143</tspan> <tspan x="186" textLength="33" lengthAdjust="spacingAndGlyphs">1.23470</tspan></text><text transform="translate(7 455) scale(1 1.09)">MACD(5,34,5) -0.000710 -0.001591</text><text transform="translate(763.3 12) scale(1 1.09)" textLength="33" lengthAdjust="spacingAndGlyphs">1.25835</text><text transform="translate(763.3 78) scale(1 1.09)" textLength="33" lengthAdjust="spacingAndGlyphs">1.25220</text><text transform="translate(763.3 111) scale(1 1.09)" textLength="33" lengthAdjust="spacingAndGlyphs">1.24910</text><text transform="translate(763.3 144) scale(1 1.09)" textLength="33" lengthAdjust="spacingAndGlyphs">1.24600</text><text transform="translate(763.3 177) scale(1 1.09)" textLength="33" lengthAdjust="spacingAndGlyphs">1.24290</text><text transform="translate(763.3 210) scale(1 1.09)" textLength="33" lengthAdjust="spacingAndGlyphs">1.23985</text><text transform="translate(763.3 243) scale(1 1.09)" textLength="33" lengthAdjust="spacingAndGlyphs">1.23675</text><text transform="translate(763.3 276) scale(1 1.09)" textLength="33" lengthAdjust="spacingAndGlyphs">1.23365</text><text transform="translate(763.3 309) scale(1 1.09)" textLength="33" lengthAdjust="spacingAndGlyphs">1.23055</text><text transform="translate(763.3 375) scale(1 1.09)" textLength="33" lengthAdjust="spacingAndGlyphs">1.22440</text><text transform="translate(763.3 408) scale(1 1.09)" textLength="33" lengthAdjust="spacingAndGlyphs">1.22130</text><text transform="translate(763.3 441) scale(1 1.09)" textLength="33" lengthAdjust="spacingAndGlyphs">1.21820</text><text transform="translate(761 453) scale(1 1.09)" textLength="38" lengthAdjust="spacingAndGlyphs">0.007483</text><text transform="translate(761 527) scale(1 1.09)" textLength="18" lengthAdjust="spacingAndGlyphs">0.00</text><text transform="translate(761 576) scale(1 1.09)" textLength="41" lengthAdjust="spacingAndGlyphs">-0.005183</text><text transform="translate(2 592) scale(1 1.09)">12 Feb 2018</text><text transform="translate(66 592) scale(1 1.09)">12 Feb 22:00</text><text transform="translate(130 592) scale(1 1.09)">13 Feb 14:00</text><text transform="translate(194 592) scale(1 1.09)">14 Feb 06:00</text><text transform="translate(258 592) scale(1 1.09)">14 Feb 22:00</text><text transform="translate(322 592) scale(1 1.09)">15 Feb 14:00</text><text transform="translate(386 592) scale(1 1.09)">16 Feb 06:00</text><text transform="translate(450 592) scale(1 1.09)">16 Feb 22:00</text><text transform="translate(514 592) scale(1 1.09)">19 Feb 15:00</text><text transform="translate(578 592) scale(1 1.09)">20 Feb 07:00</text><text transform="translate(642 592) scale(1 1.09)">20 Feb 23:00</text><text transform="translate(706 592) scale(1 1.09)">21 Feb 15:00</text>
<g shape-rendering="crispEdges"><rect x="759" y="34" width="41" height="11" fill="#FF0000"/><rect x="759" y="162" width="41" height="11" fill="#FF0000"/><rect x="759" y="229" width="41" height="11" fill="#FF0000"/><rect x="759" y="256" width="41" height="11" fill="#000"/><rect x="759" y="331" width="41" height="11" fill="#FF0000"/><rect x="759" y="375" width="41" height="11" fill="#FF0000"/><rect x="759" y="406" width="41" height="11" fill="#FF0000"/></g>
<text transform="translate(763.3 43) scale(1 1.09)" class="w" textLength="33" lengthAdjust="spacingAndGlyphs">1.25541</text><text transform="translate(763.3 171) scale(1 1.09)" class="w" textLength="33" lengthAdjust="spacingAndGlyphs">1.24338</text><text transform="translate(763.3 238) scale(1 1.09)" class="w" textLength="33" lengthAdjust="spacingAndGlyphs">1.23715</text><text transform="translate(763.3 265) scale(1 1.09)" class="w" textLength="33" lengthAdjust="spacingAndGlyphs">1.23470</text><text transform="translate(763.3 340) scale(1 1.09)" class="w" textLength="33" lengthAdjust="spacingAndGlyphs">1.22757</text><text transform="translate(763.3 384) scale(1 1.09)" class="w" textLength="33" lengthAdjust="spacingAndGlyphs">1.22348</text><text transform="translate(763.3 415) scale(1 1.09)" class="w" textLength="33" lengthAdjust="spacingAndGlyphs">1.22054</text>
</svg>
</body></html>
